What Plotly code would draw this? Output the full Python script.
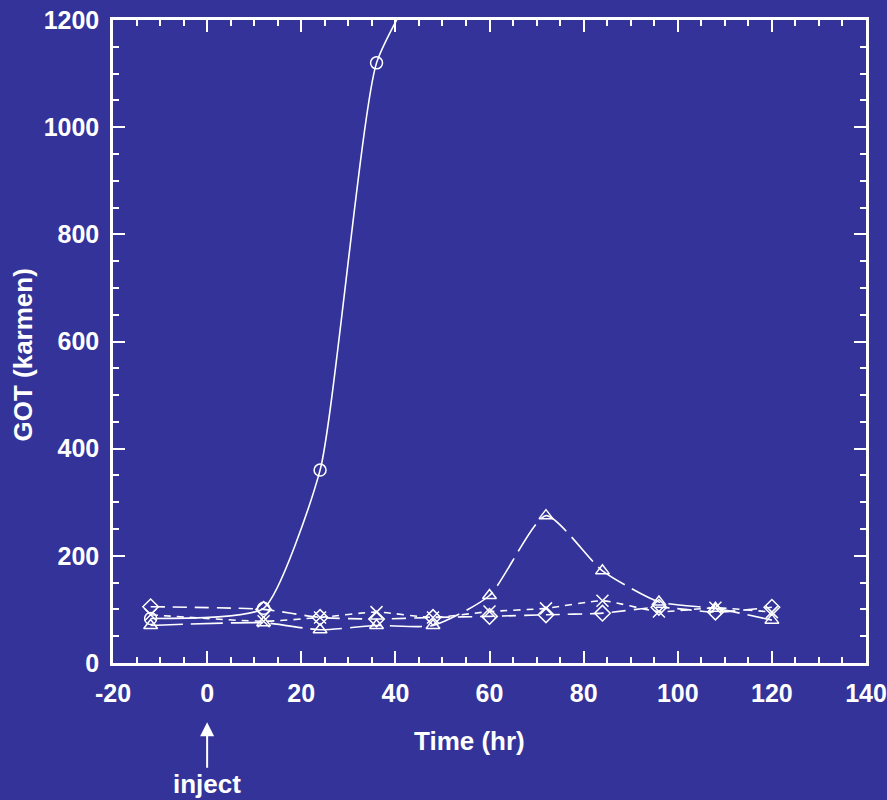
import plotly.graph_objects as go

# Data
time_circle = [-12, 12, 24, 36, 48]
got_circle = [83, 102, 360, 1120, 1320]

time_all = [-12, 12, 24, 36, 48, 60, 72, 84, 96, 108, 120]
got_diamond = [105, 100, 85, 82, 85, 87, 90, 93, 104, 95, 104]
got_x = [90, 78, 85, 95, 85, 96, 102, 116, 96, 103, 95]
got_triangle = [70, 75, 62, 70, 70, 126, 275, 172, 114, 102, 80]

x_ticks = [-20, 0, 20, 40, 60, 80, 100, 120, 140]
y_ticks = [0, 200, 400, 600, 800, 1000, 1200]

BG = "#333399"
FG = "white"
FONT = "Liberation Sans, Arial, sans-serif"
TXT = dict(family=FONT, size=26, color=FG, weight="bold")

fig = go.Figure()

def add(xs, ys, symbol, dash, size=12, smoothing=0.6):
    fig.add_trace(go.Scatter(
        x=xs, y=ys, mode="lines+markers",
        line=dict(color=FG, width=1.6, dash=dash, shape="spline", smoothing=smoothing),
        marker=dict(symbol=symbol, size=size, color=FG, line=dict(color=FG, width=1.5)),
        showlegend=False, cliponaxis=True,
    ))

add(time_all, got_diamond, "diamond-open", "14px,8px", 12)
add(time_all, got_x, "x-thin-open", "7px,6px", 12)
add(time_all, got_triangle, "triangle-up-open", "32px,8px", 12)
add(time_circle, got_circle, "circle-open", "solid", 12, 0.5)

axis_common = dict(
    showline=True, linecolor=FG, linewidth=2.5, mirror="ticks",
    ticks="inside", ticklen=12, tickwidth=2, tickcolor=FG,
    showgrid=False, zeroline=False, automargin=False,
    tickfont=dict(family=FONT, size=25, color=FG, weight="bold"),
)

fig.update_xaxes(
    range=[-20, 140], tickvals=x_ticks, ticktext=[str(v) for v in x_ticks],
    minor=dict(dtick=5, tick0=0, ticks="inside", ticklen=6, tickwidth=2, tickcolor=FG),
    ticklabelstandoff=6,
    **axis_common,
)
fig.update_yaxes(
    range=[0, 1200], tickvals=y_ticks, ticktext=[str(v) for v in y_ticks],
    minor=dict(dtick=50, tick0=0, ticks="inside", ticklen=6, tickwidth=2, tickcolor=FG),
    ticklabelstandoff=6,
    **axis_common,
)

# Axis titles (placed as in the reference, slightly off-centre)
fig.add_annotation(
    x=0.4741, xref="paper", y=-0.1213, yref="paper",
    text="Time (hr)", showarrow=False, xanchor="center", yanchor="middle", font=TXT,
)
fig.add_annotation(
    x=-0.1195, xref="paper", y=0.4782, yref="paper",
    text="GOT (karmen)", showarrow=False, textangle=-90,
    xanchor="center", yanchor="middle", font=TXT,
)

fig.add_annotation(
    x=0, xref="x", y=-0.092, yref="paper",
    text="inject", showarrow=True, arrowhead=2, arrowsize=1.4, arrowwidth=2,
    arrowcolor=FG, ax=0, ay=62, font=TXT,
)

fig.update_layout(
    width=887, height=800,
    paper_bgcolor=BG, plot_bgcolor=BG,
    margin=dict(l=113, r=21, t=20, b=137),
)

fig.write_html("out.html", config={"displayModeBar": False})

with open("out.html", "r", encoding="utf-8") as f:
    html = f.read()
html = html.replace("<head>", "<head><style>html,body{margin:0;padding:0;overflow:hidden;}</style>", 1)
with open("out.html", "w", encoding="utf-8") as f:
    f.write(html)
